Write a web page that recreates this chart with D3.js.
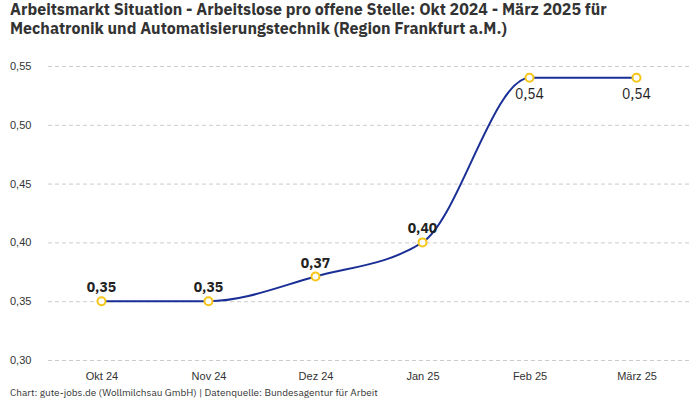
<!DOCTYPE html>
<html>
<head>
<meta charset="utf-8">
<script src="https://cdn.jsdelivr.net/npm/d3@7"></script>
<style>
  body { margin: 0; background: #fff; }
  svg { font-family: "IBM Plex Sans", Roboto, "Noto Sans", sans-serif; }
  .title { font-size: 16px; font-weight: 700; fill: #333; }
  .tick text { font-size: 11px; fill: #333; }
  .footer { font-size: 10px; fill: #333; }
  .label { font-size: 14px; fill: #222; }
</style>
</head>
<body>
<svg></svg>
<script>
const months = ["Okt 24", "Nov 24", "Dez 24", "Jan 25", "Feb 25", "März 25"]
const values = [0.35, 0.35, 0.371, 0.40, 0.54, 0.54]
const yTicks = [0.30, 0.35, 0.40, 0.45, 0.50, 0.55]

const fmt = v => d3.format(".2f")(v).replace(".", ",")

const svg = d3.select("svg")
    .attr("width", 700)
    .attr("height", 400)

svg.append("text")
    .attr("class", "title")
    .attr("x", 10)
    .attr("y", 15)
    .text("Arbeitsmarkt Situation - Arbeitslose pro offene Stelle: Okt 2024 - März 2025 für")

svg.append("text")
    .attr("class", "title")
    .attr("x", 10)
    .attr("y", 34)
    .text("Mechatronik und Automatisierungstechnik (Region Frankfurt a.M.)")

const x = d3.scalePoint()
    .domain(months)
    .range([48, 690])
    .padding(0.5)

const y = d3.scaleLinear()
    .domain([0.30, 0.55])
    .range([360, 66])

// gridlines + y labels
const yAxis = svg.append("g")
    .call(d3.axisLeft(y).tickValues(yTicks).tickFormat(fmt).tickSize(0))
    .attr("transform", "translate(48, 0)")

yAxis.select(".domain").remove()
yAxis.selectAll(".tick line")
    .attr("x2", 642)
    .attr("stroke", "#ccc")
    .attr("stroke-dasharray", "4,3")
yAxis.selectAll(".tick text")
    .attr("x", -38)
    .attr("text-anchor", "start")

const xAxis = svg.append("g")
    .attr("transform", "translate(0, 362)")
    .call(d3.axisBottom(x).tickSize(0).tickPadding(10))

xAxis.select(".domain").remove()

const line = d3.line()
    .x((d, i) => x(months[i]))
    .y(d => y(d))
    .curve(d3.curveMonotoneX)

svg.append("path")
    .datum(values)
    .attr("d", line)
    .attr("fill", "none")
    .attr("stroke", "#1a2f96")
    .attr("stroke-width", 2)

svg.selectAll("circle.pt")
    .data(values)
    .enter()
    .append("circle")
    .attr("class", "pt")
    .attr("cx", (d, i) => x(months[i]))
    .attr("cy", d => y(d))
    .attr("r", 4)
    .attr("fill", "#fff")
    .attr("stroke", "#f5c518")
    .attr("stroke-width", 2)

// last two labels sit below the points in regular weight
svg.selectAll("text.label")
    .data(values)
    .enter()
    .append("text")
    .attr("class", "label")
    .attr("x", (d, i) => x(months[i]))
    .attr("y", (d, i) => i >= 4 ? y(d) + 21 : y(d) - 9)
    .attr("text-anchor", "middle")
    .attr("font-weight", (d, i) => i >= 4 ? 400 : 700)
    .text(d => fmt(d))

svg.append("text")
    .attr("class", "footer")
    .attr("x", 10)
    .attr("y", 396)
    .text("Chart: gute-jobs.de (Wollmilchsau GmbH) | Datenquelle: Bundesagentur für Arbeit")
</script>
</body>
</html>
